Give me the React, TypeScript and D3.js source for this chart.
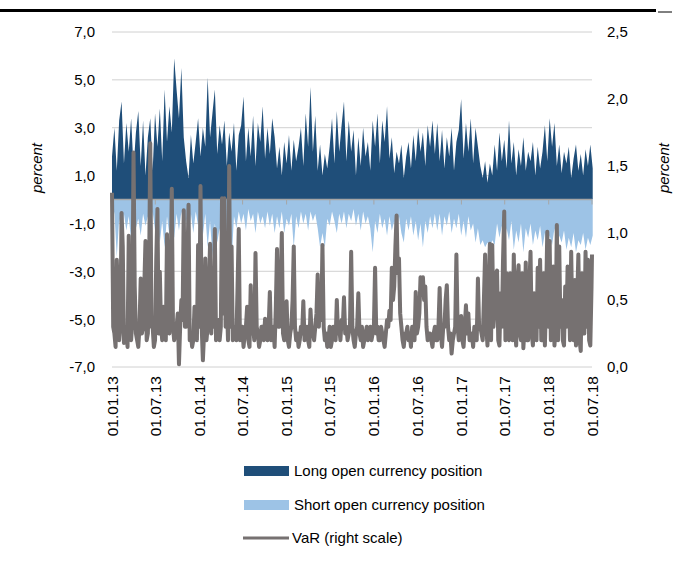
import React from "react";
import * as d3 from "d3";

const START_DATE = "2013-01-01";
const STEP_DAYS = 10;
const VAR_STEP_DAYS = 5;

const tickLabels = ["01.01.13","01.07.13","01.01.14","01.07.14","01.01.15","01.07.15","01.01.16","01.07.16","01.01.17","01.07.17","01.01.18","01.07.18"];
const leftTicks = [7, 5, 3, 1, -1, -3, -5, -7];
const rightTicks = [2.5, 2.0, 1.5, 1.0, 0.5, 0.0];

const longPos = [
  1.8, 3.0, 1.2, 3.3, 4.1, 1.5, 3.2, 2.0, 3.4, 1.3,
  2.8, 3.7, 1.4, 3.3, 1.0, 2.6, 3.4, 1.2, 3.6, 2.2,
  3.8, 1.6, 4.6, 2.4, 3.9, 2.8, 5.9, 4.6, 3.4, 5.5,
  2.6, 1.6, 0.9, 2.7, 1.5, 2.4, 3.4, 1.8, 3.0, 2.2,
  5.1, 2.6, 3.6, 4.6, 1.9, 3.1, 2.3, 3.3, 1.4, 2.8,
  2.0, 3.2, 1.2, 2.7, 3.1, 4.3, 1.6, 3.0, 1.8, 3.5,
  1.4, 3.2, 2.4, 3.9, 1.7, 3.0, 1.9, 3.4, 2.6, 1.3,
  2.2, 1.0, 2.4, 1.5, 2.7, 1.2, 2.5, 1.6, 2.2, 3.0,
  1.4, 3.6, 2.2, 4.7, 2.0, 3.5, 1.2, 2.3, 1.0, 1.9,
  1.3, 2.2, 3.4, 1.5, 3.7, 2.0, 3.1, 4.1, 1.6, 3.3,
  2.0, 2.9, 1.0, 2.6, 1.4, 3.0, 1.8, 2.4, 1.2, 3.3,
  2.2, 3.6, 1.5, 3.3, 2.4, 3.9, 1.7, 2.6, 1.1, 2.0,
  1.5, 2.3, 0.9, 1.8, 2.4, 1.3, 2.7, 1.6, 3.0, 2.0,
  2.8, 1.4, 3.1, 2.2, 3.3, 1.9, 3.2, 1.6, 2.9, 1.3,
  2.6, 1.8, 3.0, 1.2, 2.4, 2.9, 4.2, 1.7, 3.2, 2.0,
  3.4, 1.5, 3.0, 2.2, 1.4, 0.9, 1.6, 0.7, 1.5, 1.0,
  2.3, 1.2, 2.8, 1.6, 2.5, 1.3, 3.3, 1.5, 2.4, 1.0,
  2.1, 1.4, 2.6, 1.2, 2.0, 1.6, 2.4, 1.0, 2.2, 1.3,
  2.0, 3.1, 1.6, 3.4, 2.2, 3.2, 1.4, 2.3, 1.1, 2.0,
  1.5, 2.2, 0.9, 1.7, 2.3, 1.2, 1.9, 1.0, 2.1, 1.4,
  2.3, 1.3
];

const shortPos = [
  -1.2, -0.5, -2.4, -0.8, -1.6, -0.6, -1.3, -0.7, -1.7, -0.5,
  -1.2, -0.8, -1.5, -0.6, -1.1, -0.7, -1.6, -0.5, -1.3, -0.8,
  -1.8, -0.9, -2.0, -0.7, -1.5, -1.0, -1.6, -0.6, -1.3, -0.5,
  -1.2, -0.8, -1.7, -0.6, -1.4, -0.5, -1.1, -0.7, -1.5, -0.6,
  -2.0, -0.9, -2.4, -1.0, -1.8, -1.2, -2.2, -0.8, -3.2, -1.4,
  -2.6, -0.7, -1.2, -0.5, -1.0, -0.6, -1.3, -0.4, -0.9, -0.6,
  -1.4, -0.5, -1.0, -0.7, -1.2, -0.5, -1.1, -0.6, -1.4, -0.7,
  -1.2, -0.5, -1.4, -0.8, -1.1, -0.6, -2.0, -0.7, -1.2, -0.5,
  -1.0, -0.6, -1.3, -0.5, -0.9, -0.6, -1.2, -2.0, -1.4, -2.0,
  -0.8, -1.1, -0.5, -0.9, -1.4, -0.6, -1.0, -0.5, -1.2, -0.6,
  -0.9, -0.4, -1.1, -0.6, -1.3, -0.5, -1.0, -0.7, -1.2, -2.2,
  -0.9, -1.4, -0.6, -1.2, -0.8, -1.5, -0.7, -1.3, -0.9, -1.6,
  -0.7, -1.4, -1.8, -0.8, -1.3, -0.7, -1.5, -0.9, -1.7, -1.0,
  -2.0, -0.9, -1.4, -0.7, -1.2, -0.6, -1.3, -0.6, -1.5, -0.7,
  -1.1, -0.5, -1.4, -0.8, -1.2, -0.6, -1.5, -0.9, -1.6, -0.7,
  -1.3, -1.0, -1.8, -1.2, -1.9, -1.7, -2.0, -1.8, -2.0, -1.7,
  -1.9, -1.0, -1.6, -1.1, -2.0, -1.2, -1.7, -0.9, -2.1, -1.3,
  -1.8, -1.0, -2.2, -1.2, -1.6, -1.0, -1.9, -1.3, -1.7, -1.1,
  -2.0, -1.4, -2.1, -1.5, -1.9, -1.2, -2.2, -1.5, -1.8, -1.3,
  -2.1, -1.6, -2.0, -1.4, -2.2, -1.7, -1.9, -1.4, -2.1, -1.6,
  -1.9, -1.5
];

// VaR, 5-day readings
const varValues = [
  1.3, 0.3, 0.25, 0.15, 0.8, 0.55, 0.2, 0.3, 1.15, 0.9,
  0.18, 0.25, 0.3, 0.15, 0.98, 0.3, 0.2, 0.35, 1.6, 0.6,
  0.25, 0.2, 0.15, 0.3, 0.66, 0.25, 0.3, 0.6, 0.94, 0.2,
  0.25, 0.7, 1.67, 0.3, 0.3, 0.15, 0.2, 0.8, 1.18, 0.25,
  0.71, 0.3, 0.2, 0.45, 0.3, 0.2, 0.99, 0.3, 0.25, 0.65,
  1.33, 0.3, 0.2, 0.25, 0.3, 0.4, 0.02, 0.3, 0.5, 0.35,
  1.17, 0.3, 0.3, 0.75, 1.21, 0.2, 0.25, 0.15, 0.2, 0.45,
  0.3, 0.2, 0.91, 0.3, 1.35, 0.3, 0.05, 0.25, 0.81, 0.2,
  0.3, 0.6, 0.92, 0.25, 0.7, 0.3, 1.03, 0.2, 0.25, 0.35,
  0.2, 0.3, 1.26, 0.4, 1.26, 0.3, 0.5, 0.2, 1.5, 0.3,
  0.9, 0.2, 0.25, 0.3, 0.2, 0.6, 1.03, 0.2, 0.25, 0.3,
  0.15, 0.25, 0.3, 0.45, 0.2, 0.15, 0.61, 0.25, 0.3, 0.2,
  0.85, 0.3, 0.25, 0.15, 0.2, 0.3, 0.3, 0.2, 0.36, 0.25,
  0.2, 0.3, 0.56, 0.2, 0.25, 0.3, 0.15, 0.45, 0.88, 0.3,
  0.3, 0.6, 1.0, 0.25, 0.2, 0.3, 0.49, 0.2, 0.15, 0.25,
  0.3, 0.5, 0.9, 0.3, 0.2, 0.25, 0.15, 0.2, 0.3, 0.25,
  0.49, 0.2, 0.25, 0.3, 0.2, 0.15, 0.43, 0.25, 0.25, 0.2,
  0.3, 0.4, 0.69, 0.3, 0.6, 0.35, 0.91, 0.3, 0.2, 0.25,
  0.15, 0.2, 0.3, 0.15, 0.2, 0.3, 0.25, 0.2, 0.5, 0.25,
  0.3, 0.2, 0.35, 0.3, 0.52, 0.25, 0.3, 0.2, 0.25, 0.3,
  0.86, 0.3, 0.2, 0.15, 0.25, 0.3, 0.55, 0.25, 0.2, 0.3,
  0.15, 0.2, 0.25, 0.3, 0.2, 0.25, 0.3, 0.2, 0.25, 0.3,
  0.74, 0.25, 0.3, 0.2, 0.2, 0.3, 0.25, 0.2, 0.15, 0.25,
  0.35, 0.3, 0.42, 0.35, 0.74, 0.5, 0.6, 0.9, 1.13, 0.7,
  0.81, 0.4, 0.3, 0.2, 0.15, 0.25, 0.25, 0.3, 0.2, 0.25,
  0.15, 0.3, 0.3, 0.2, 0.56, 0.25, 0.3, 0.4, 0.67, 0.6,
  0.67, 0.5, 0.6, 0.3, 0.2, 0.25, 0.25, 0.2, 0.15, 0.25,
  0.3, 0.2, 0.2, 0.3, 0.59, 0.25, 0.15, 0.3, 0.3, 0.5,
  0.61, 0.3, 0.2, 0.25, 0.1, 0.2, 0.25, 0.3, 0.84, 0.3,
  0.2, 0.25, 0.38, 0.2, 0.15, 0.3, 0.46, 0.25, 0.4, 0.2,
  0.2, 0.25, 0.15, 0.3, 0.25, 0.2, 0.66, 0.3, 0.3, 0.25,
  0.2, 0.5, 0.84, 0.3, 0.16, 0.6, 0.92, 0.2, 0.91, 0.3,
  0.45, 0.7, 0.72, 0.2, 0.16, 0.55, 0.3, 0.8, 1.16, 0.2,
  0.7, 0.25, 0.2, 0.7, 0.6, 0.2, 0.84, 0.3, 0.16, 0.65,
  0.76, 0.25, 0.2, 0.7, 0.14, 0.3, 0.78, 0.2, 0.2, 0.6,
  0.86, 0.25, 0.16, 0.55, 0.3, 0.2, 0.74, 0.3, 0.8, 0.2,
  0.2, 0.7, 0.16, 0.5, 1.01, 0.3, 0.94, 0.2, 0.3, 0.75,
  0.16, 0.3, 1.06, 0.2, 0.9, 0.3, 0.5, 0.2, 0.16, 0.6,
  0.3, 0.75, 0.6, 0.2, 0.86, 0.3, 0.2, 0.65, 0.16, 0.5,
  0.84, 0.2, 0.12, 0.7, 0.5, 0.25, 0.86, 0.3, 0.8, 0.2,
  0.16, 0.6, 0.84
];

const FONT = "'Liberation Sans', Arial, sans-serif";
const DARK = "#1F4E79";
const LIGHT = "#9DC3E6";
const GREY = "#767171";

export default function App() {
  const parse = d3.timeParse("%Y-%m-%d");
  const start = parse(START_DATE) as Date;
  const dates = longPos.map((_, i) => d3.timeDay.offset(start, i * STEP_DAYS));
  const varDates = varValues.map((_, j) => d3.timeDay.offset(start, j * VAR_STEP_DAYS));
  const tickDates = tickLabels.map((l) => d3.timeParse("%d.%m.%y")(l) as Date);

  const x = d3.scaleTime().domain([tickDates[0], tickDates[tickDates.length - 1]]).range([112, 592]);
  const yL = d3.scaleLinear().domain([-7, 7]).range([367, 32]);
  const yR = d3.scaleLinear().domain([0, 2.5]).range([367, 32]);

  const areaL = d3.area<number>().x((_, i) => x(dates[i])).y0(yL(0)).y1((d) => yL(d));
  const lineV = d3.line<number>().x((_, j) => Math.min(x(varDates[j]), 592)).y((d) => yR(d));

  const fmt = (v: number) => v.toFixed(1).replace(".", ",");

  return (
    <svg width={677} height={562} style={{ position: "absolute", left: 0, top: 0, background: "#fff" }}>
      <line x1={0} x2={656} y1={10.5} y2={10.5} stroke="#000" strokeWidth={3} />
      <line x1={658} x2={672} y1={12} y2={12} stroke="#000" strokeWidth={1} />
      {leftTicks.map((t) => (
        <line key={"g" + t} x1={112} x2={592} y1={yL(t)} y2={yL(t)} stroke="#d0d0d0" strokeWidth={1} />
      ))}
      <path d={areaL(longPos) || ""} fill={DARK} />
      <path d={areaL(shortPos) || ""} fill={LIGHT} />
      <line x1={112} x2={592} y1={yL(0)} y2={yL(0)} stroke="#a6a6a6" strokeWidth={1.5} />
      {tickDates.map((d, i) => (
        <line key={"t" + i} x1={x(d)} x2={x(d)} y1={yL(0)} y2={yL(0) + 5} stroke="#a6a6a6" strokeWidth={1} />
      ))}
      <path d={lineV(varValues) || ""} fill="none" stroke={GREY} strokeWidth={4} strokeLinejoin="round" />
      {leftTicks.map((t) => (
        <text key={"l" + t} x={95} y={yL(t)} dy="0.36em" textAnchor="end" fontFamily={FONT} fontSize={15} fill="#000">{fmt(t)}</text>
      ))}
      {rightTicks.map((t) => (
        <text key={"r" + t} x={607} y={yR(t)} dy="0.36em" textAnchor="start" fontFamily={FONT} fontSize={15} fill="#000">{fmt(t)}</text>
      ))}
      {tickDates.map((d, i) => (
        <text key={"x" + i} transform={`translate(${x(d)},376) rotate(-90)`} dy="0.36em" textAnchor="end" fontFamily={FONT} fontSize={15.5} fill="#000">{tickLabels[i]}</text>
      ))}
      <text transform="translate(37,168) rotate(-90)" dy="0.36em" textAnchor="middle" fontFamily={FONT} fontSize={15} fontStyle="italic">percent</text>
      <text transform="translate(664,168) rotate(-90)" dy="0.36em" textAnchor="middle" fontFamily={FONT} fontSize={15} fontStyle="italic">percent</text>
      <rect x={244} y={466} width={45} height={10} fill={DARK} />
      <text x={294} y={476} fontFamily={FONT} fontSize={15}>Long open currency position</text>
      <rect x={244} y={500} width={45} height={10} fill={LIGHT} />
      <text x={294} y={510} fontFamily={FONT} fontSize={15}>Short open currency position</text>
      <line x1={243} x2={289} y1={538} y2={538} stroke={GREY} strokeWidth={3} />
      <text x={292} y={543} fontFamily={FONT} fontSize={15}>VaR (right scale)</text>
    </svg>
  );
}
